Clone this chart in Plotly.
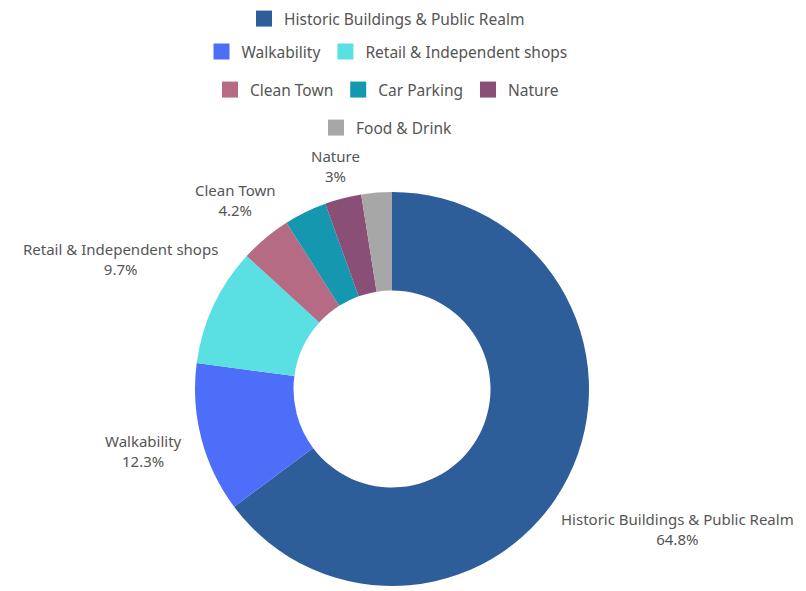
import math
import plotly.graph_objects as go

categories = ["Historic Buildings & Public Realm", "Walkability", "Retail & Independent shops",
              "Clean Town", "Car Parking", "Nature", "Food & Drink"]
shares = [64.8, 12.3, 9.7, 4.2, 3.5, 3.0, 2.5]
show_label = [True, True, True, True, False, True, False]
colors = ["#2D5E99", "#4D6EF9", "#5ADFE3", "#B56B83", "#1597B0", "#8A4F76", "#A7A7A7"]
legend_rows = [["Historic Buildings & Public Realm"],
               ["Walkability", "Retail & Independent shops"],
               ["Clean Town", "Car Parking", "Nature"],
               ["Food & Drink"]]

FONT = "Noto Sans"
TXT = "#555555"
W, H = 806, 591
CX, CY, R = 384, 381, 197          # donut centre and outer radius (px, figure coords)
LABEL_GAP = 25
CHAR_W = 7.3

fig = go.Figure()
fig.add_trace(go.Pie(
    labels=categories, values=shares, hole=0.5, sort=False, direction="clockwise",
    rotation=0, marker=dict(colors=colors, line=dict(width=0)),
    textinfo="none", showlegend=False, hoverinfo="label+percent",
    domain=dict(x=[(CX - R) / W, (CX + R) / W], y=[1 - (CY + R) / H, 1 - (CY - R) / H]),
))

# outside labels placed along each slice's mid angle
total = sum(shares)
annotations = []
cum = 0.0
for cat, v, show in zip(categories, shares, show_label):
    mid = (cum + v / 2) / total * 2 * math.pi
    cum += v
    if not show:
        continue
    s, c = math.sin(mid), math.cos(mid)
    half_w = 0.45 * len(cat) * CHAR_W
    rr = R + LABEL_GAP + half_w * abs(s)
    annotations.append(dict(
        x=CX + rr * s, y=CY - rr * c - 3, xref="x", yref="y",
        text=f"{cat}<br>{v / total * 100:.3g}%", showarrow=False,
        xanchor="center", yanchor="middle", align="center",
        font=dict(family=FONT, size=15, color=TXT),
    ))

legend_y = [11, 44, 82, 120]
for i, row in enumerate(legend_rows):
    lname = "legend" if i == 0 else f"legend{i+1}"
    for name in row:
        fig.add_trace(go.Scatter(
            x=[None], y=[None], mode="markers", name=name,
            marker=dict(symbol="square", size=16, color=colors[categories.index(name)]),
            legend=lname, showlegend=True,
        ))

layout_legends = {}
for i, yy in enumerate(legend_y):
    lname = "legend" if i == 0 else f"legend{i+1}"
    layout_legends[lname] = dict(
        orientation="h", xref="container", yref="container",
        x=379 / W, xanchor="center", y=1 - yy / H, yanchor="middle",
        font=dict(family=FONT, size=15.5, color=TXT), bgcolor="rgba(0,0,0,0)",
    )

fig.update_layout(
    width=W, height=H,
    margin=dict(l=0, r=0, t=0, b=0, autoexpand=False),
    paper_bgcolor="white", plot_bgcolor="white",
    font=dict(family=FONT, size=15, color=TXT),
    xaxis=dict(visible=False, range=[0, W], domain=[0, 1], fixedrange=True),
    yaxis=dict(visible=False, range=[H, 0], domain=[0, 1], fixedrange=True),
    annotations=annotations,
    **layout_legends,
)

fig.write_html("out.html")
